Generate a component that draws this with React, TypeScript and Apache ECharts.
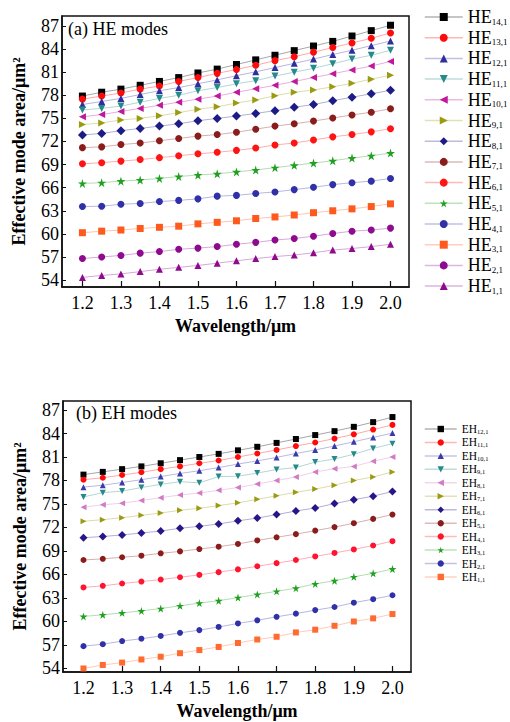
import React, { useEffect, useRef } from "react";
import * as echarts from "echarts";

const wavelengths = [1.2, 1.25, 1.3, 1.35, 1.4, 1.45, 1.5, 1.55, 1.6, 1.65, 1.7, 1.75, 1.8, 1.85, 1.9, 1.95, 2.0];
const xTicks = [1.2, 1.3, 1.4, 1.5, 1.6, 1.7, 1.8, 1.9, 2.0];
const yTicks = [54, 57, 60, 63, 66, 69, 72, 75, 78, 81, 84, 87];

// (a) HE modes
const HE14 = [77.9, 78.4, 78.8, 79.3, 79.8, 80.3, 80.9, 81.4, 82.0, 82.6, 83.2, 83.8, 84.4, 85.0, 85.7, 86.4, 87.1];
const HE13 = [77.5, 77.9, 78.3, 78.8, 79.2, 79.8, 80.3, 80.85, 81.35, 81.9, 82.5, 83.0, 83.6, 84.2, 84.8, 85.4, 86.1];
const HE12 = [76.8, 77.2, 77.6, 78.1, 78.6, 79.0, 79.5, 80.0, 80.55, 81.05, 81.6, 82.15, 82.7, 83.3, 83.85, 84.45, 85.05];
const HE11 = [76.1, 76.3, 76.6, 77.1, 77.6, 78.0, 78.6, 79.0, 79.5, 79.9, 80.5, 81.0, 81.5, 82.1, 82.7, 83.2, 83.85];
const HE10 = [75.2, 75.5, 75.9, 76.3, 76.7, 77.1, 77.5, 77.9, 78.4, 78.85, 79.3, 79.8, 80.3, 80.8, 81.3, 81.8, 82.4];
const HE9 = [74.2, 74.4, 74.8, 75.0, 75.35, 75.75, 76.2, 76.5, 77.0, 77.4, 77.95, 78.4, 78.7, 79.1, 79.55, 80.1, 80.6];
const HE8 = [72.85, 73.05, 73.4, 73.7, 74.0, 74.3, 74.7, 75.0, 75.3, 75.65, 76.0, 76.45, 76.8, 77.3, 77.75, 78.2, 78.65];
const HE7 = [71.2, 71.3, 71.6, 71.8, 72.1, 72.4, 72.7, 72.9, 73.2, 73.6, 74.0, 74.3, 74.65, 75.05, 75.45, 75.8, 76.25];
const HE6 = [69.1, 69.25, 69.45, 69.65, 69.9, 70.15, 70.4, 70.6, 70.85, 71.15, 71.55, 71.8, 72.2, 72.6, 72.9, 73.25, 73.65];
const HE5 = [66.55, 66.65, 66.85, 67.0, 67.2, 67.45, 67.65, 67.8, 68.05, 68.3, 68.6, 68.9, 69.2, 69.5, 69.85, 70.15, 70.5];
const HE4 = [63.55, 63.6, 63.85, 63.95, 64.2, 64.35, 64.55, 64.9, 65.0, 65.25, 65.45, 65.75, 66.05, 66.4, 66.65, 66.85, 67.2];
const HE3 = [60.15, 60.35, 60.5, 60.7, 60.85, 61.0, 61.3, 61.5, 61.7, 62.0, 62.2, 62.45, 62.75, 63.0, 63.25, 63.55, 63.9];
const HE2 = [56.8, 57.0, 57.2, 57.5, 57.7, 58.0, 58.15, 58.35, 58.65, 58.9, 59.2, 59.4, 59.7, 60.05, 60.35, 60.5, 60.75];
const HE1 = [54.35, 54.6, 54.8, 55.1, 55.4, 55.65, 55.9, 56.2, 56.5, 56.8, 57.05, 57.25, 57.55, 57.9, 58.1, 58.35, 58.65];

// (b) EH modes
const EH12 = [78.75, 79.1, 79.45, 79.8, 80.2, 80.6, 81.0, 81.4, 81.85, 82.3, 82.8, 83.3, 83.8, 84.3, 84.85, 85.45, 86.1];
const EH11 = [78.1, 78.35, 78.7, 79.05, 79.45, 79.8, 80.2, 80.55, 81.0, 81.45, 81.9, 82.4, 82.85, 83.35, 83.9, 84.5, 85.1];
const EH10 = [77.15, 77.4, 77.75, 78.1, 78.5, 78.9, 79.25, 79.65, 80.1, 80.5, 80.95, 81.45, 81.9, 82.4, 82.95, 83.5, 84.05];
const EH9 = [75.9, 76.45, 76.65, 77.1, 77.5, 77.85, 77.7, 78.5, 78.55, 78.95, 79.4, 79.65, 80.35, 80.75, 81.35, 82.1, 82.7];
const EH8 = [74.6, 74.9, 75.1, 75.45, 75.8, 76.15, 76.4, 76.75, 77.1, 77.55, 78.0, 78.45, 79.1, 79.5, 79.8, 80.45, 81.0];
const EH7 = [72.8, 73.0, 73.25, 73.55, 73.85, 74.2, 74.45, 74.8, 75.15, 75.6, 76.05, 76.5, 76.9, 77.4, 78.0, 78.45, 79.1];
const EH6 = [70.7, 70.85, 71.05, 71.3, 71.55, 71.9, 72.15, 72.45, 72.85, 73.2, 73.65, 74.1, 74.5, 75.05, 75.55, 76.0, 76.6];
const EH5 = [67.85, 68.0, 68.2, 68.4, 68.7, 68.95, 69.25, 69.55, 69.9, 70.35, 70.75, 71.15, 71.6, 72.05, 72.55, 73.1, 73.65];
const EH4 = [64.35, 64.55, 64.85, 65.1, 65.35, 65.65, 65.95, 66.3, 66.65, 67.05, 67.45, 67.85, 68.3, 68.75, 69.2, 69.7, 70.25];
const EH3 = [60.65, 60.85, 61.1, 61.35, 61.65, 62.0, 62.35, 62.65, 63.05, 63.45, 63.85, 64.25, 64.8, 65.2, 65.7, 66.15, 66.7];
const EH2 = [56.85, 57.1, 57.5, 57.8, 58.15, 58.55, 58.9, 59.3, 59.75, 60.15, 60.6, 61.0, 61.45, 61.85, 62.4, 62.85, 63.35];
const EH1 = [54.0, 54.45, 54.75, 55.15, 55.5, 55.95, 56.35, 56.75, 57.25, 57.7, 58.05, 58.6, 58.95, 59.45, 60.0, 60.4, 60.95];

const heNames = ["HE14,1", "HE13,1", "HE12,1", "HE11,1", "HE10,1", "HE9,1", "HE8,1", "HE7,1", "HE6,1", "HE5,1", "HE4,1", "HE3,1", "HE2,1", "HE1,1"];
const heData = [HE14, HE13, HE12, HE11, HE10, HE9, HE8, HE7, HE6, HE5, HE4, HE3, HE2, HE1];
const ehNames = ["EH12,1", "EH11,1", "EH10,1", "EH9,1", "EH8,1", "EH7,1", "EH6,1", "EH5,1", "EH4,1", "EH3,1", "EH2,1", "EH1,1"];
const ehData = [EH12, EH11, EH10, EH9, EH8, EH7, EH6, EH5, EH4, EH3, EH2, EH1];

const STAR = "path://M50,0 L61,35 L98,35 L68,57 L79,91 L50,70 L21,91 L32,57 L2,35 L39,35 Z";

type Sty = { color: string; symbol: string; rotate?: number; big?: number };
const heStyles: Sty[] = [
  { color: "#000000", symbol: "rect" },
  { color: "#ff0a0a", symbol: "circle" },
  { color: "#2e2e9e", symbol: "triangle" },
  { color: "#268a8a", symbol: "triangle", rotate: 180 },
  { color: "#c0189c", symbol: "triangle", rotate: 90 },
  { color: "#9b9b12", symbol: "triangle", rotate: -90 },
  { color: "#1c1c86", symbol: "diamond", big: 1 },
  { color: "#8a1c1c", symbol: "circle" },
  { color: "#ff1414", symbol: "circle" },
  { color: "#20a020", symbol: STAR, big: 1 },
  { color: "#3030a8", symbol: "circle" },
  { color: "#ff5a1e", symbol: "rect" },
  { color: "#8e0a8e", symbol: "circle" },
  { color: "#8e0a8e", symbol: "triangle" },
];
const ehStyles: Sty[] = [
  { color: "#000000", symbol: "rect" },
  { color: "#ff0a0a", symbol: "circle" },
  { color: "#3a3aaa", symbol: "triangle" },
  { color: "#268a8a", symbol: "triangle", rotate: 180 },
  { color: "#d27ac4", symbol: "triangle", rotate: 90 },
  { color: "#9b9b12", symbol: "triangle", rotate: -90 },
  { color: "#26168a", symbol: "diamond", big: 1 },
  { color: "#8a1c1c", symbol: "circle" },
  { color: "#ff1430", symbol: "circle" },
  { color: "#20a020", symbol: STAR, big: 1 },
  { color: "#3030a8", symbol: "circle" },
  { color: "#ff6a30", symbol: "rect" },
];

const SERIF = "'Liberation Serif', 'DejaVu Serif', serif";

function pale(hex: string, t: number) {
  const n = parseInt(hex.slice(1), 16);
  const r = (n >> 16) & 255, g = (n >> 8) & 255, b = n & 255;
  const m = (c: number) => Math.round(c + (255 - c) * t);
  return `rgb(${m(r)},${m(g)},${m(b)})`;
}

function makeAxes(gridIndex: number, yMin: number, yMax: number) {
  const x = {
    type: "value",
    gridIndex,
    min: 1.147,
    max: 2.048,
    name: "Wavelength/μm",
    nameLocation: "middle",
    nameGap: 30,
    nameTextStyle: { fontFamily: SERIF, fontWeight: "bold", fontSize: 18, color: "#000" },
    axisLine: { show: true, lineStyle: { color: "#111", width: 1.5 } },
    axisTick: { show: true, inside: true, length: 6, customValues: xTicks, lineStyle: { color: "#111", width: 1.2 } },
    axisLabel: {
      customValues: xTicks,
      formatter: (v: number) => v.toFixed(1),
      fontFamily: SERIF,
      fontSize: 18,
      color: "#000",
      margin: 7,
    },
    splitLine: { show: false },
  };
  const y = {
    type: "value",
    gridIndex,
    min: yMin,
    max: yMax,
    name: "Effective mode area/μm²",
    nameLocation: "middle",
    nameRotate: 90,
    nameGap: 34,
    nameTextStyle: { fontFamily: SERIF, fontWeight: "bold", fontSize: 18, color: "#000" },
    axisLine: { show: true, lineStyle: { color: "#111", width: 1.5 } },
    axisTick: { show: true, inside: true, length: 4, customValues: yTicks, lineStyle: { color: "#111", width: 1 } },
    axisLabel: {
      customValues: yTicks,
      formatter: (v: number) => String(Math.round(v)),
      fontFamily: SERIF,
      fontSize: 18,
      color: "#000",
      margin: 3,
    },
    splitLine: { show: false },
  };
  return { x, y };
}

function makeSeries(names: string[], data: number[][], styles: Sty[], idx: number, size: number) {
  return names.map((name, i) => ({
    type: "line",
    name,
    xAxisIndex: idx,
    yAxisIndex: idx,
    data: wavelengths.map((w, j) => [w, data[i][j]]),
    symbol: styles[i].symbol,
    symbolRotate: styles[i].rotate || 0,
    symbolSize: styles[i].big ? size + 2 : size,
    showSymbol: true,
    itemStyle: { color: styles[i].color },
    lineStyle: { color: pale(styles[i].color, 0.65), width: 1 },
  }));
}

function legendData(names: string[], styles: Sty[]) {
  return names.map((name, i) => ({
    name,
    lineStyle: { color: pale(styles[i].color, 0.7), width: 1.5 },
  }));
}

export default function App() {
  const ref = useRef<HTMLDivElement>(null);
  useEffect(() => {
    if (!ref.current) return;
    const chart = echarts.init(ref.current, null, { renderer: "svg" });
    const a = makeAxes(0, 53.1, 88.3);
    const b = makeAxes(1, 53.55, 88.15);
    const legendFmt = (name: string) => `{a|${name.slice(0, 2)}}{b|${name.slice(2)}}`;
    chart.setOption({
      animation: false,
      backgroundColor: "#fff",
      grid: [
        { left: 62, top: 16, width: 347, height: 271, show: true, borderColor: "#111", borderWidth: 1.5, backgroundColor: "transparent" },
        { left: 63, top: 401, width: 348, height: 271, show: true, borderColor: "#111", borderWidth: 1.5, backgroundColor: "transparent" },
      ],
      xAxis: [a.x, b.x],
      yAxis: [a.y, b.y],
      legend: [
        {
          data: legendData(heNames, heStyles),
          orient: "vertical",
          left: 419,
          top: 3,
          itemWidth: 38,
          itemHeight: 10,
          itemGap: 2.7,
          formatter: legendFmt,
          textStyle: {
            rich: {
              a: { fontFamily: SERIF, fontSize: 18, lineHeight: 18, color: "#000" },
              b: { fontFamily: SERIF, fontSize: 9, lineHeight: 5, verticalAlign: "bottom", color: "#000" },
            },
          },
        },
        {
          data: legendData(ehNames, ehStyles),
          orient: "vertical",
          left: 419,
          top: 418,
          itemWidth: 32,
          itemHeight: 8,
          itemGap: 1.45,
          formatter: legendFmt,
          textStyle: {
            rich: {
              a: { fontFamily: SERIF, fontSize: 11.5, lineHeight: 12, color: "#000" },
              b: { fontFamily: SERIF, fontSize: 6.5, lineHeight: 3, verticalAlign: "bottom", color: "#000" },
            },
          },
        },
      ],
      graphic: [
        { type: "text", left: 68, top: 20, style: { text: "(a) HE modes", fontFamily: SERIF, fontSize: 18, fill: "#000" } },
        { type: "text", left: 76, top: 404, style: { text: "(b) EH modes", fontFamily: SERIF, fontSize: 18, fill: "#000" } },
      ],
      series: [...makeSeries(heNames, heData, heStyles, 0, 7), ...makeSeries(ehNames, ehData, ehStyles, 1, 6)],
    });
    return () => chart.dispose();
  }, []);
  return (
    <div style={{ position: "fixed", left: 0, top: 0, width: 510, height: 722, background: "#fff" }}>
      <div ref={ref} style={{ width: 510, height: 722 }} />
    </div>
  );
}
